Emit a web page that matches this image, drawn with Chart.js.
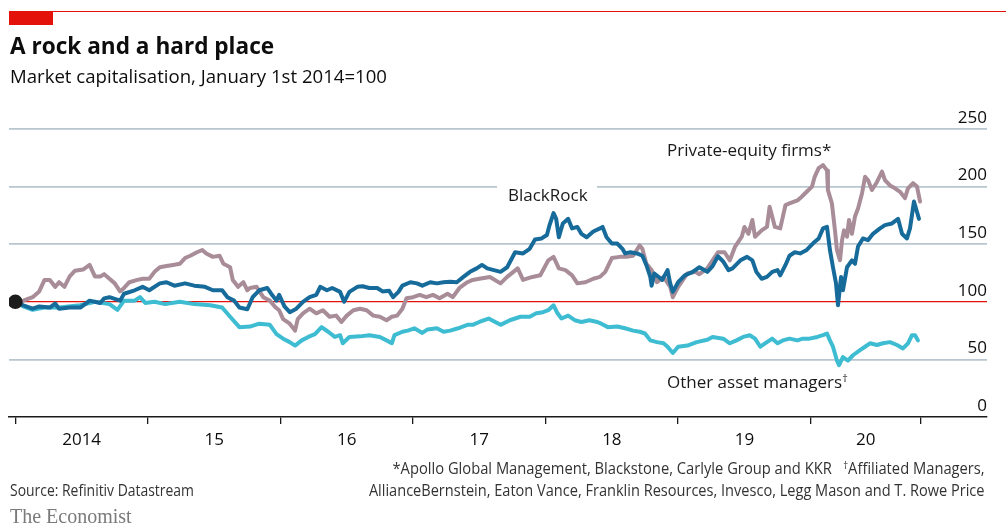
<!DOCTYPE html>
<html>
<head>
<meta charset="utf-8">
<title>A rock and a hard place</title>
<script src="https://cdn.jsdelivr.net/npm/chart.js@4.4.1/dist/chart.umd.min.js"></script>
<style>
  html, body { margin: 0; padding: 0; background: #fff; }
  body { width: 1006px; height: 526px; position: relative; overflow: hidden; font-family: "Open Sans", sans-serif; color: #0d0d0d; }
  #chart { position: absolute; left: 0; top: 0; }
  .txt { position: absolute; line-height: 1; white-space: nowrap; }
  .rule { position: absolute; left: 9px; right: 0; top: 11px; height: 1.3px; background: #e3120b; }
  .tag { position: absolute; left: 9px; top: 11px; width: 44px; height: 14px; background: #e3120b; }
  .title { left: 10px; top: 34.5px; font-size: 22.6px; font-weight: 700; }
  .subtitle { left: 10px; top: 66.5px; font-size: 18.6px; }
  .label { font-size: 17px; color: #1a1a1a; }
  .note { font-size: 16px; color: #333; display: inline-block; }
  .dag { font-size: 0.65em; position: relative; top: -0.5em; }
  .brand { left: 10px; top: 506px; font-family: "Liberation Serif", serif; font-size: 20px; color: #7a7a7a; }
</style>
</head>
<body>
<canvas id="chart" width="1006" height="526"></canvas>

<div class="rule"></div>
<div class="tag"></div>
<div class="txt title">A rock and a hard place</div>
<div class="txt subtitle">Market capitalisation, January 1st 2014=100</div>

<div class="txt label" style="left:497px; top:183.6px; padding:2px 9px 1px 11px; background:#fff;">BlackRock</div>
<div class="txt label" style="left:667px; top:140.6px;">Private-equity firms*</div>
<div class="txt label" style="left:667px; top:373px;">Other asset managers<span class="dag">†</span></div>

<div class="txt" style="right:21px; top:460px;"><span class="note" style="transform:scaleX(0.92); transform-origin:right;">*Apollo Global Management, Blackstone, Carlyle Group and KKR&nbsp;&nbsp;&nbsp;<span class="dag">†</span>Affiliated Managers,</span></div>
<div class="txt" style="right:21px; top:482px;"><span class="note" style="transform:scaleX(0.91); transform-origin:right;">AllianceBernstein, Eaton Vance, Franklin Resources, Invesco, Legg Mason and T. Rowe Price</span></div>
<div class="txt" style="left:10px; top:482px;"><span class="note" style="transform:scaleX(0.87); transform-origin:left;">Source: Refinitiv Datastream</span></div>
<div class="txt brand">The Economist</div>

<script>
// years since 1 January 2014, index = 100 at the start
const privateEquityYears = [0, .06, .13, .18, .22, .26, .30, .33, .37, .41, .45, .51, .56, .60, .64, .67, .71, .75, .79, .82, .86, .92, .96,
  1.01, 1.05, 1.09, 1.14, 1.19, 1.24, 1.28, 1.32, 1.37, 1.41, 1.44, 1.49, 1.54, 1.57, 1.62, 1.64, 1.68, 1.72, 1.75, 1.77, 1.82, 1.87, 1.92, 1.96, 1.99,
  2.02, 2.07, 2.11, 2.13, 2.17, 2.22, 2.27, 2.32, 2.37, 2.42, 2.46, 2.50, 2.55, 2.60, 2.65, 2.70, 2.75, 2.80, 2.84, 2.88, 2.92, 2.95,
  3.00, 3.05, 3.10, 3.15, 3.20, 3.26, 3.30, 3.35, 3.41, 3.45, 3.50, 3.58, 3.66, 3.71, 3.79, 3.83, 3.90, 3.96,
  4.02, 4.06, 4.10, 4.15, 4.20, 4.24, 4.30, 4.36, 4.41, 4.45, 4.50, 4.56, 4.61, 4.66, 4.71, 4.73, 4.76, 4.80, 4.84, 4.89, 4.94, 4.96,
  5.00, 5.07, 5.13, 5.16, 5.22, 5.26, 5.30, 5.35, 5.39, 5.43, 5.48, 5.50, 5.53, 5.56, 5.58, 5.63, 5.67, 5.69, 5.73, 5.77, 5.81, 5.84, 5.90, 5.93, 5.97,
  6.01, 6.03, 6.06, 6.093, 6.123, 6.130, 6.160, 6.183, 6.198, 6.221, 6.236, 6.251, 6.274, 6.289, 6.311, 6.334, 6.357, 6.387, 6.410, 6.432, 6.462,
  6.500, 6.538, 6.560, 6.598, 6.636, 6.674, 6.711, 6.734, 6.772, 6.802, 6.825];
const privateEquityValues = [100, 101, 104, 109, 119, 119, 113, 117, 113, 122, 127, 128, 132, 122, 122, 124, 120, 116, 109, 112, 117, 119, 120,
  120, 126, 130, 131, 132, 133, 138, 140, 143, 145, 142, 139, 140, 133, 130, 119, 113, 117, 110, 112, 113, 104, 101, 95.5, 92.7,
  85, 81, 75, 85, 90, 94, 90, 92.7, 87, 88, 82.5, 88, 92.7, 94, 92.7, 88, 87, 84, 87, 88, 94, 103,
  104, 106, 104, 106, 103, 107, 104, 112, 117, 119, 120, 121.6, 116, 121.6, 129, 119, 121.6, 123,
  136, 139, 129, 127.5, 123, 116, 117, 120, 121.6, 126, 138, 139, 139, 140, 149, 146, 133, 127.5, 117, 121.6, 113, 104,
  113, 124.6, 126, 124, 129, 136, 143, 143, 136, 148, 156.5, 165, 159, 171, 156.5, 162, 165, 182.5, 165, 163.7, 184, 185.4, 188, 191, 195.5,
  200, 208.5, 216, 218.6, 214, 197, 185.4, 162, 145, 136, 153, 162, 156.5, 171, 159, 174, 181, 194, 208.5, 205.7, 197,
  204, 213, 205.7, 201, 198.5, 195.5, 190, 198.5, 203, 200, 187];

const blackRockYears = [0, .06, .13, .18, .26, .30, .33, .41, .49, .56, .64, .67, .71, .79, .82, .90, .96,
  1.01, 1.09, 1.14, 1.20, 1.28, 1.35, 1.43, 1.49, 1.56, 1.60, 1.65, 1.69, 1.75, 1.79, 1.84, 1.90, 1.93, 1.97, 1.99,
  2.03, 2.07, 2.12, 2.17, 2.22, 2.27, 2.30, 2.35, 2.39, 2.45, 2.48, 2.52, 2.58, 2.62, 2.67, 2.73, 2.77, 2.82, 2.85, 2.89, 2.92, 2.98,
  3.03, 3.07, 3.13, 3.18, 3.23, 3.28, 3.33, 3.38, 3.43, 3.48, 3.52, 3.56, 3.66, 3.71, 3.77, 3.83, 3.88, 3.92, 3.97,
  4.01, 4.03, 4.06, 4.08, 4.10, 4.13, 4.17, 4.20, 4.24, 4.27, 4.31, 4.36, 4.41, 4.43, 4.46, 4.50, 4.54, 4.58, 4.60, 4.64, 4.69, 4.73, 4.76,
  4.79, 4.80, 4.82, 4.88, 4.92, 4.94, 4.96,
  5.00, 5.05, 5.11, 5.16, 5.22, 5.26, 5.30, 5.34, 5.38, 5.41, 5.47, 5.52, 5.56, 5.59, 5.63, 5.67, 5.71, 5.75, 5.77, 5.81, 5.84, 5.88, 5.92, 5.97,
  6.02, 6.06, 6.093, 6.123, 6.145, 6.168, 6.191, 6.206, 6.229, 6.243, 6.274, 6.311, 6.334, 6.357, 6.394, 6.432, 6.470, 6.523, 6.560,
  6.613, 6.659, 6.689, 6.726, 6.749, 6.779, 6.802, 6.817];
const blackRockValues = [100, 97, 94, 96, 95, 98.5, 94, 95, 95, 101, 99, 103, 104, 101, 107, 110, 113,
  110, 116, 117, 114, 116, 114, 113, 110, 110, 104, 101, 95, 93.5, 104, 110, 112, 107, 101, 106,
  96, 91, 94, 100, 104, 106, 113, 110, 112, 108.6, 100, 108.6, 113, 113.5, 112, 112, 109, 109.5, 104, 108.6, 114, 117,
  116, 114, 117, 116, 117, 117.5, 117, 121.6, 126, 129, 132, 129, 126, 130, 143, 142, 146, 154, 155,
  158, 166.6, 177, 172, 156, 168, 172, 163.7, 165, 159, 156, 161, 163.7, 165, 156, 150.6, 150.6, 146, 142, 143, 142, 140, 132,
  121.6, 114, 124.6, 119, 127.5, 116, 108.6,
  117, 123, 126, 130, 126, 131, 139.5, 135, 127.5, 129, 136, 139, 136, 126, 120, 121.6, 126, 127.5, 123, 132, 140, 143, 142, 145,
  151, 155, 163.7, 165, 145, 130, 116, 97, 121.6, 110, 130, 136, 133, 148, 155, 153.5, 159, 163.7, 166.6,
  168, 172, 159, 155, 163.7, 187, 178, 172];

const otherManagersYears = [0, .06, .13, .22, .33, .49, .60, .71, .77, .82, .90, .94, .98,
  1.05, 1.13, 1.24, 1.35, 1.47, 1.56, 1.62, 1.69, 1.77, 1.84, 1.92, 1.97,
  2.02, 2.07, 2.11, 2.16, 2.21, 2.26, 2.31, 2.36, 2.41, 2.45, 2.47, 2.52, 2.60, 2.67, 2.75, 2.80, 2.84, 2.86, 2.92, 2.96,
  3.01, 3.07, 3.11, 3.18, 3.23, 3.28, 3.34, 3.41, 3.45, 3.50, 3.57, 3.66, 3.73, 3.81, 3.88, 3.93, 3.98,
  4.02, 4.06, 4.09, 4.12, 4.17, 4.22, 4.27, 4.33, 4.39, 4.42, 4.47, 4.54, 4.60, 4.66, 4.71, 4.75, 4.79, 4.84, 4.89, 4.92, 4.96,
  5.00, 5.07, 5.14, 5.22, 5.26, 5.34, 5.39, 5.44, 5.49, 5.54, 5.58, 5.62, 5.67, 5.71, 5.75, 5.79, 5.84, 5.90, 5.94, 5.99,
  6.05, 6.093, 6.123, 6.145, 6.168, 6.198, 6.214, 6.243, 6.281, 6.319, 6.372, 6.410, 6.447, 6.500, 6.545, 6.598, 6.651, 6.696,
  6.734, 6.764, 6.787, 6.809];
const otherManagersValues = [100, 96, 93, 95, 95, 97, 100, 98, 93, 101, 101, 104, 99,
  100, 98, 100, 98, 97, 95, 87, 78, 78.5, 81, 80, 72,
  68, 65, 62, 66.5, 69.5, 72, 78, 74, 69.5, 71, 64, 69.5, 70, 71, 69.5, 66.5, 64, 71, 74, 75,
  77, 73, 76, 77, 74, 75, 77, 80, 80, 82.5, 85.5, 80, 84, 87, 87, 90, 91,
  92.7, 97, 90, 85.5, 88, 84, 82.5, 84, 82.5, 81, 78, 78.5, 77, 75, 74, 72.5, 66.5, 65, 64, 61, 55.6,
  61, 62, 65, 67, 69.5, 68, 64, 66.5, 69.5, 71, 68, 61, 65, 68, 64, 66.5, 68, 66.5, 68, 68,
  69.5, 71, 72.5, 66.5, 61, 49, 45, 52, 49, 53.6, 58, 61, 64, 62.5, 64, 65, 62.5, 59.5,
  64, 71, 71, 66.5];

const startPoint = [{ x: 0, y: 100 }];

// tick marks at year boundaries (the last one marks the end of the data)
const xTickYears = [0, 1, 2, 3, 4, 5, 6, 6.83];
// year labels sit between the marks
const xLabelYears = [0.5, 1.5, 2.5, 3.5, 4.5, 5.5, 6.415];
const xTickLabels = ["2014", "15", "16", "17", "18", "19", "20"];
const yTicks = [0, 50, 100, 150, 200, 250];

const X_MIN = -0.048;
const X_MAX = 7.33;

const toPoints = (xs, ys) => xs.map((x, i) => ({ x: x, y: ys[i] }));
const allXTicks = xTickYears.concat(xLabelYears).sort((a, b) => a - b);

const tickFont = { family: "Open Sans", size: 17 };

new Chart(document.getElementById("chart"), {
  type: "line",
  data: {
    datasets: [
      {
        label: "start",
        data: startPoint,
        showLine: false,
        pointRadius: 7.3,
        pointBackgroundColor: "#1c1c1c",
        pointBorderWidth: 0,
        order: 0,
      },
      {
        label: "BlackRock",
        data: toPoints(blackRockYears, blackRockValues),
        borderColor: "#176b9b",
        order: 1,
      },
      {
        label: "Other asset managers",
        data: toPoints(otherManagersYears, otherManagersValues),
        borderColor: "#3ebcd2",
        order: 2,
      },
      {
        label: "Private-equity firms",
        data: toPoints(privateEquityYears, privateEquityValues),
        borderColor: "#a88d98",
        order: 3,
      },
    ],
  },
  options: {
    responsive: false,
    animation: false,
    layout: { padding: { left: 9, right: 19, top: 129, bottom: 69 } },
    elements: {
      line: { borderWidth: 4, tension: 0, fill: false, borderJoinStyle: "round", borderCapStyle: "round" },
      point: { radius: 0 },
    },
    plugins: { legend: { display: false }, tooltip: { enabled: false } },
    scales: {
      x: {
        type: "linear",
        position: "bottom",
        min: X_MIN,
        max: X_MAX,
        afterBuildTicks: (s) => { s.ticks = allXTicks.map((v) => ({ value: v })); },
        afterFit: (s) => { s.height = 40; },
        grid: {
          drawOnChartArea: false,
          drawTicks: true,
          tickLength: 7,
          lineWidth: 1.3,
          tickColor: (c) => (xTickYears.includes(c.tick.value) ? "#1a1a1a" : "rgba(0,0,0,0)"),
        },
        border: { display: true, color: "#1a1a1a", width: 1.6 },
        ticks: {
          autoSkip: false,
          maxRotation: 0,
          padding: 6,
          color: "#0d0d0d",
          font: tickFont,
          callback: (v) => {
            const i = xLabelYears.indexOf(v);
            return i >= 0 ? xTickLabels[i] : "";
          },
        },
      },
      y: {
        position: "right",
        min: 0,
        max: 250,
        afterBuildTicks: (s) => { s.ticks = yTicks.map((v) => ({ value: v })); },
        afterFit: (s) => { s.width = 0; },
        grid: {
          drawTicks: false,
          color: (c) => (c.tick.value === 100 ? "#e3120b" : c.tick.value === 0 ? "rgba(0,0,0,0)" : "#b7c6cf"),
          lineWidth: (c) => (c.tick.value === 100 ? 1.2 : 1.8),
        },
        border: { display: false },
        ticks: { mirror: true, padding: 0, labelOffset: -11, color: "#0d0d0d", font: tickFont },
      },
    },
  },
});
</script>
</body>
</html>
